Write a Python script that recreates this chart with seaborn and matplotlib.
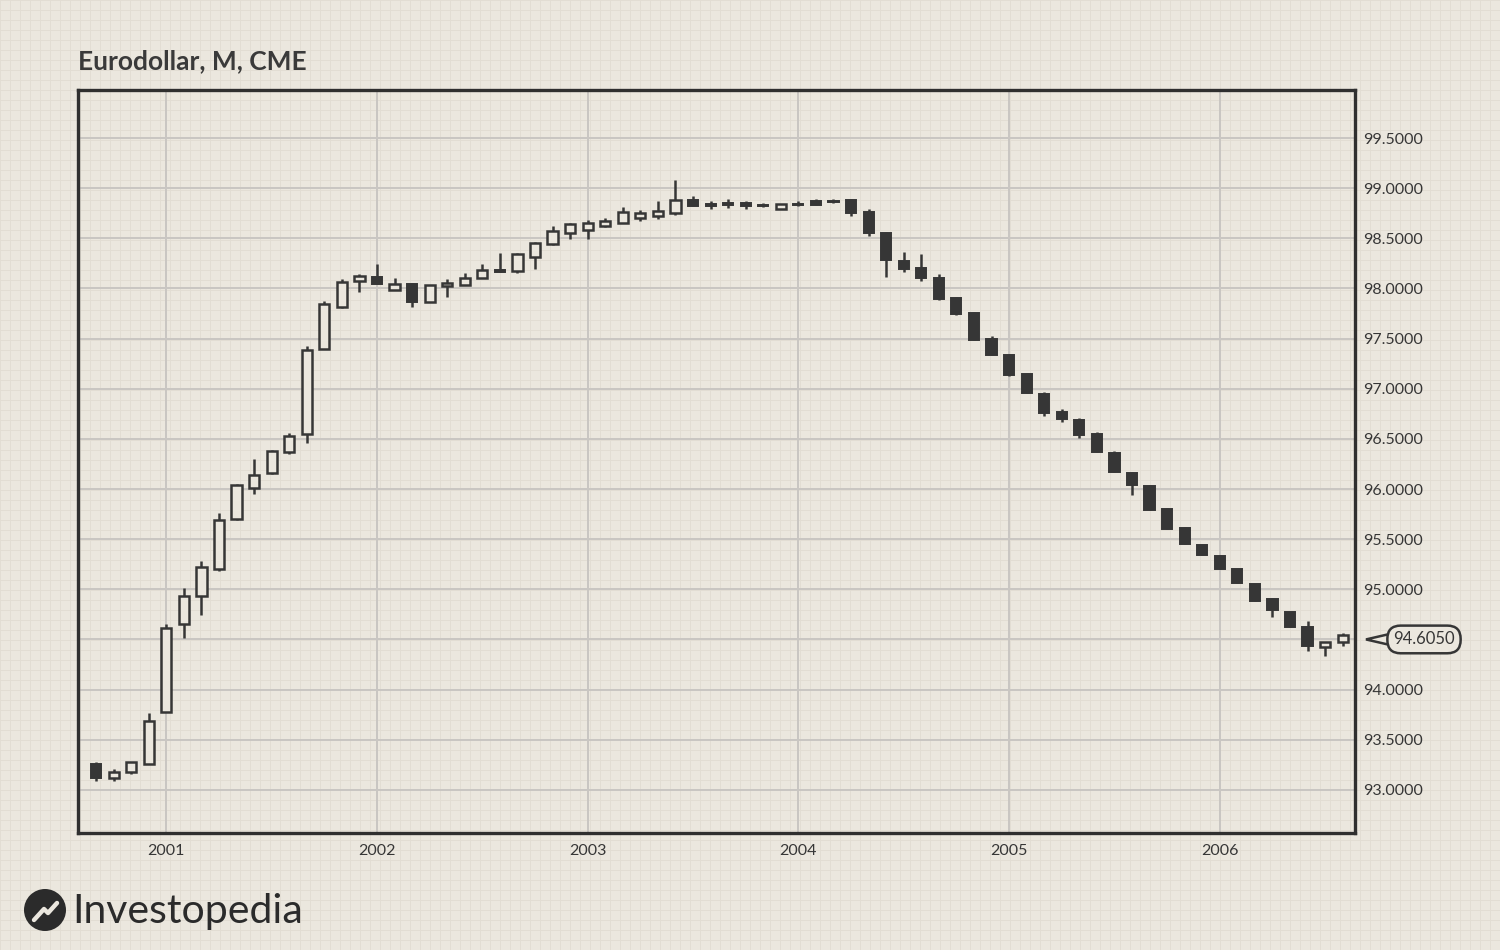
import numpy as np
import pandas as pd
import seaborn as sns
import matplotlib.pyplot as plt
from matplotlib.patches import Circle, Polygon

# Monthly Eurodollar futures candles, Sep 2000 - Aug 2006
months = pd.date_range("2000-09-01", periods=72, freq="MS")
opens = [93.26, 93.12, 93.18, 93.26, 93.78, 94.65, 94.93, 95.20, 95.70, 96.01, 96.16, 96.37,
         96.55, 97.40, 97.82, 98.07, 98.11, 97.99, 98.04, 97.87, 98.02, 98.03, 98.10, 98.18,
         98.17, 98.31, 98.44, 98.55, 98.58, 98.62, 98.65, 98.70, 98.72, 98.75, 98.88, 98.84,
         98.85, 98.85, 98.83, 98.79, 98.84, 98.87, 98.87, 98.88, 98.76, 98.55, 98.27, 98.20,
         98.10, 97.91, 97.76, 97.50, 97.34, 97.15, 96.95, 96.77, 96.69, 96.55, 96.36, 96.16,
         96.03, 95.80, 95.61, 95.44, 95.33, 95.20, 95.05, 94.90, 94.77, 94.62, 94.42, 94.47]
highs = [93.28, 93.21, 93.28, 93.77, 94.65, 95.01, 95.28, 95.76, 96.05, 96.30, 96.39, 96.56,
         97.43, 97.88, 98.09, 98.14, 98.24, 98.10, 98.05, 98.03, 98.09, 98.15, 98.24, 98.35,
         98.35, 98.46, 98.62, 98.65, 98.68, 98.70, 98.81, 98.78, 98.87, 99.08, 98.92, 98.87,
         98.89, 98.87, 98.85, 98.84, 98.87, 98.89, 98.89, 98.89, 98.79, 98.56, 98.36, 98.34,
         98.14, 97.92, 97.77, 97.53, 97.35, 97.16, 96.97, 96.80, 96.71, 96.57, 96.38, 96.17,
         96.04, 95.81, 95.62, 95.44, 95.34, 95.20, 95.05, 94.91, 94.77, 94.68, 94.47, 94.56]
lows = [93.09, 93.09, 93.16, 93.26, 93.78, 94.51, 94.74, 95.18, 95.69, 95.95, 96.15, 96.35,
        96.46, 97.40, 97.81, 97.97, 98.04, 97.99, 97.82, 97.87, 97.92, 98.03, 98.10, 98.16,
        98.15, 98.19, 98.43, 98.49, 98.49, 98.61, 98.65, 98.67, 98.69, 98.73, 98.82, 98.79,
        98.80, 98.79, 98.81, 98.79, 98.82, 98.83, 98.85, 98.72, 98.52, 98.11, 98.16, 98.07,
        97.89, 97.74, 97.49, 97.34, 97.13, 96.96, 96.73, 96.67, 96.51, 96.37, 96.17, 95.94,
        95.79, 95.60, 95.45, 95.34, 95.20, 95.06, 94.88, 94.72, 94.62, 94.38, 94.33, 94.43]
closes = [93.12, 93.18, 93.28, 93.69, 94.61, 94.93, 95.22, 95.69, 96.04, 96.14, 96.38, 96.53,
          97.39, 97.85, 98.06, 98.12, 98.04, 98.04, 97.87, 98.03, 98.05, 98.10, 98.18, 98.16,
          98.34, 98.45, 98.57, 98.64, 98.65, 98.67, 98.76, 98.75, 98.77, 98.88, 98.82, 98.82,
          98.83, 98.82, 98.82, 98.84, 98.83, 98.83, 98.86, 98.75, 98.55, 98.28, 98.19, 98.10,
          97.90, 97.75, 97.49, 97.34, 97.14, 96.96, 96.76, 96.70, 96.54, 96.37, 96.17, 96.04,
          95.79, 95.60, 95.45, 95.34, 95.20, 95.06, 94.88, 94.79, 94.62, 94.43, 94.47, 94.54]
last_label = "94.6050"

bg = "#ebe7de"
ink = "#363636"

sns.set_theme(style="white")
plt.rcParams["font.family"] = ["Lato", "DejaVu Sans"]

df = pd.DataFrame({"month": months, "open": opens, "high": highs, "low": lows, "close": closes})
df["x"] = np.arange(len(df))
up = df["close"] >= df["open"]

fig = plt.figure(figsize=(15, 9.5), dpi=100, facecolor=bg)

# graph-paper background, in figure pixels
bgax = fig.add_axes([0, 0, 1, 1], zorder=0)
bgax.set_xlim(0, 1500)
bgax.set_ylim(0, 950)
for v in range(0, 1501, 10):
    bgax.axvline(v, color="#e2ddd3", lw=0.7)
for v in range(0, 951, 10):
    bgax.axhline(v, color="#e2ddd3", lw=0.7)
bgax.axis("off")

ax = fig.add_axes([0.052, 0.1232, 0.8513, 0.7821], zorder=2)
ax.set_facecolor("none")

# wicks
ax.vlines(df["x"], df["low"], df["high"], color=ink, lw=1.8, zorder=3)
# bodies
bottoms = df[["open", "close"]].min(axis=1)
heights = (df["close"] - df["open"]).abs().clip(lower=0.01)
ax.bar(df.loc[up, "x"], heights[up], bottom=bottoms[up], width=0.58,
       facecolor=bg, edgecolor=ink, linewidth=1.8, zorder=4)
ax.bar(df.loc[~up, "x"], heights[~up], bottom=bottoms[~up], width=0.58,
       facecolor=ink, edgecolor=ink, linewidth=1.4, zorder=4)

ax.set_xlim(-1.03, 71.7)
ax.set_ylim(92.57, 99.98)

jan = df["month"].dt.month == 1
ax.set_xticks(df.loc[jan, "x"])
ax.set_xticklabels(df.loc[jan, "month"].dt.year.astype(str))
yt = np.arange(93.0, 99.51, 0.5)
ax.set_yticks(yt)
# the 94.5 label is covered by the last-price callout
ax.set_yticklabels(["" if abs(v - 94.5) < 1e-6 else f"{v:.4f}" for v in yt])
ax.yaxis.tick_right()
ax.tick_params(axis="both", length=0, labelsize=11.5, colors=ink)
ax.tick_params(axis="y", pad=6)
ax.tick_params(axis="x", pad=8)
ax.grid(True, color="#c9c6c2", lw=1.4, zorder=1)
ax.set_axisbelow(True)
for s in ax.spines.values():
    s.set_color("#2f2f2f")
    s.set_linewidth(2.4)

# last price callout: pointer + rounded box
yv = closes[-1] - 0.04
y_px = fig.transFigure.inverted().transform(ax.transData.transform((0, yv)))[1] * 950
pointer = Polygon([(1366 / 1500, y_px / 950), (1392 / 1500, (y_px + 6) / 950),
                   (1392 / 1500, (y_px - 6) / 950)], closed=True, transform=fig.transFigure,
                  facecolor=bg, edgecolor=ink, lw=1.8, zorder=5)
fig.patches.append(pointer)
fig.text(1424 / 1500, y_px / 950, last_label, ha="center", va="center", fontsize=12,
         color=ink, zorder=6,
         bbox=dict(boxstyle="round,pad=0.35,rounding_size=0.8", fc=bg, ec=ink, lw=1.8))

fig.text(0.052, 0.936, "Eurodollar, M, CME", fontsize=19, fontweight="bold", color="#3a3a3a",
         ha="left", va="center")

# logo
fig.patches.append(Circle((0.45, 0.40), 0.21, transform=fig.dpi_scale_trans,
                          facecolor="#2b2b2b", edgecolor="none", zorder=5))
fig.lines.append(plt.Line2D([0.34, 0.44, 0.48, 0.57], [0.30, 0.41, 0.37, 0.47],
                            transform=fig.dpi_scale_trans, color=bg, lw=3.2, zorder=6,
                            solid_capstyle="round", solid_joinstyle="round"))
fig.text(0.048, 0.040, "Investopedia", fontsize=29.5, color="#2b2b2b", ha="left", va="center")

fig.savefig("out.png", dpi=100, facecolor=bg)
